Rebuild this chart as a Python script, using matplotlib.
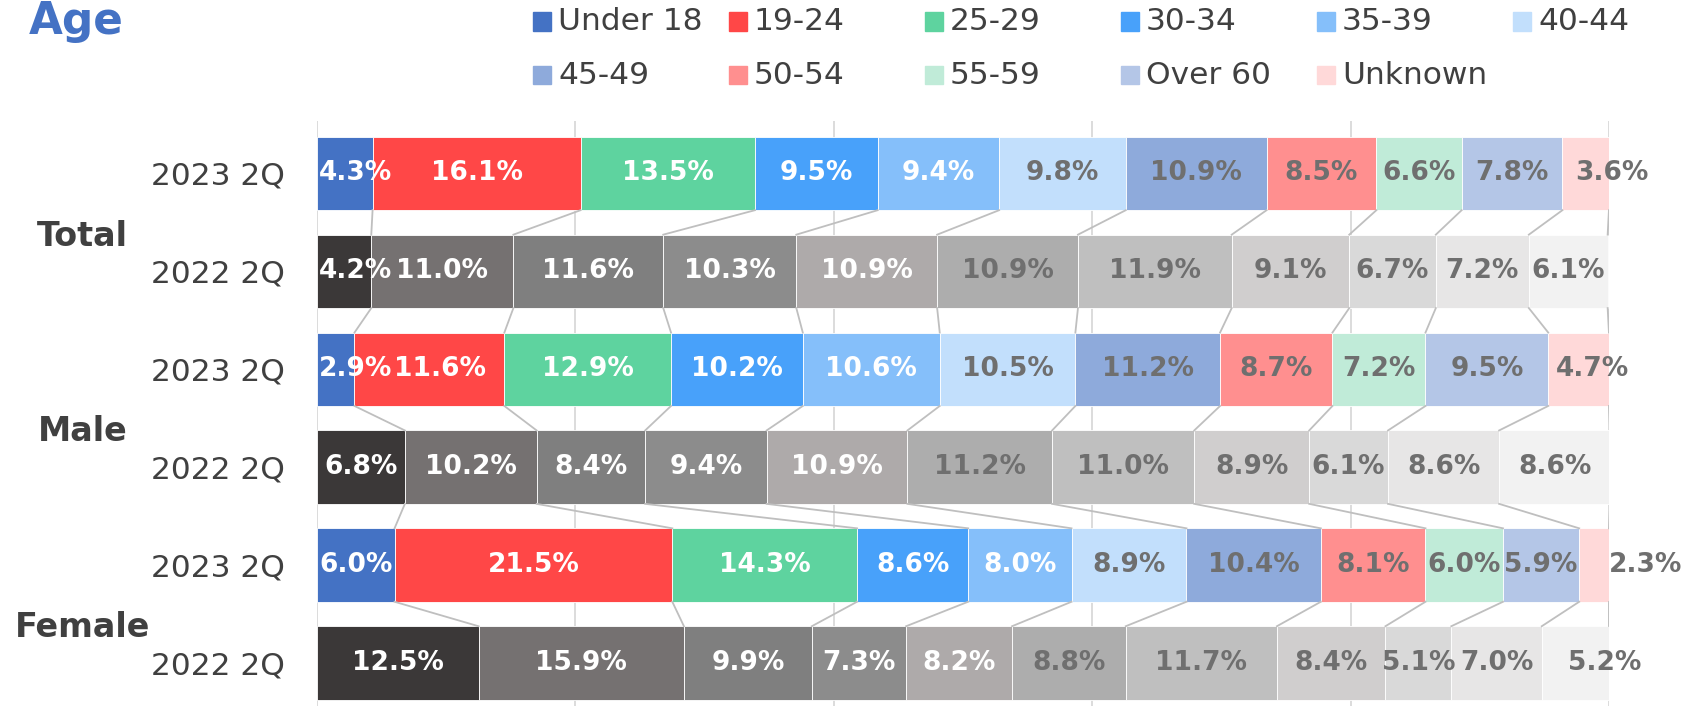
import matplotlib
matplotlib.use("Agg")
from matplotlib import pyplot as plt
from matplotlib.patches import Rectangle
from matplotlib.transforms import blended_transform_factory
import numpy as np

age_groups = ['Under 18', '19-24', '25-29', '30-34', '35-39', '40-44',
              '45-49', '50-54', '55-59', 'Over 60', 'Unknown']
row_labels = ['2023 2Q', '2022 2Q', '2023 2Q', '2022 2Q', '2023 2Q', '2022 2Q']
group_labels = ['Total', 'Male', 'Female']

total_2023 = [4.3, 16.1, 13.5, 9.5, 9.4, 9.8, 10.9, 8.5, 6.6, 7.8, 3.6]
total_2022 = [4.2, 11.0, 11.6, 10.3, 10.9, 10.9, 11.9, 9.1, 6.7, 7.2, 6.1]
male_2023 = [2.9, 11.6, 12.9, 10.2, 10.6, 10.5, 11.2, 8.7, 7.2, 9.5, 4.7]
male_2022 = [6.8, 10.2, 8.4, 9.4, 10.9, 11.2, 11.0, 8.9, 6.1, 8.6, 8.6]
female_2023 = [6.0, 21.5, 14.3, 8.6, 8.0, 8.9, 10.4, 8.1, 6.0, 5.9, 2.3]
female_2022 = [12.5, 15.9, 9.9, 7.3, 8.2, 8.8, 11.7, 8.4, 5.1, 7.0, 5.2]

rows = [total_2023, total_2022, male_2023, male_2022, female_2023, female_2022]

# colours: current year in colour, previous year in greys
colors_now = ['#4472C4', '#FF4747', '#5ED39F', '#48A1FA', '#85BFFA', '#C2DFFC',
              '#8EAADB', '#FF8F8F', '#C0EBD8', '#B4C6E7', '#FFD9D9']
colors_prev = ['#3B3838', '#757171', '#7F7F7F', '#8C8C8C', '#AEAAAA', '#ADADAD',
               '#BFBFBF', '#D0CECE', '#D9D9D9', '#E7E6E6', '#F2F2F2']
text_dark = '#404040'
label_gray = '#6F6F6F'

# label nudge for the last (narrow) segment of each row, in axis units
last_nudge = [2.0, 0, 1.1, 0, 4.0, 2.3]

fig = plt.figure(figsize=(16.89, 7.06), dpi=100)
ax = fig.add_axes([0.1877, 0.0, 0.7649, 0.8286])

bar_h = 0.75
y = np.arange(len(rows))
row_texts = []
for r, vals in enumerate(rows):
    cols = colors_now if r % 2 == 0 else colors_prev
    left = 0
    texts = []
    for i, v in enumerate(vals):
        ax.barh(y[r], v, left=left, height=bar_h, color=cols[i],
                edgecolor='white', linewidth=0.6, zorder=2)
        xc = left + v / 2
        if i == len(vals) - 1:
            xc += last_nudge[r]
        tc = 'white' if i < 5 else label_gray
        t = ax.text(xc, y[r], f'{v:.1f}%', ha='center', va='center',
                    fontsize=19, fontweight='bold', color=tc, zorder=4)
        texts.append(t)
        left += v
    row_texts.append(texts)

# series lines between consecutive bars
for r in range(len(rows) - 1):
    c1 = np.cumsum(rows[r])
    c2 = np.cumsum(rows[r + 1])
    for a, b in zip(c1, c2):
        ax.plot([a, b], [y[r] + bar_h / 2, y[r + 1] - bar_h / 2],
                color='#BFBFBF', lw=1.3, zorder=3)

ax.set_xlim(0, 100)
ax.set_ylim(5.44, -0.536)
ax.set_xticks([0, 20, 40, 60, 80, 100])
ax.set_xticklabels([])
ax.grid(axis='x', color='#D9D9D9', lw=1.3, zorder=0)
ax.set_axisbelow(True)
ax.set_yticks(y)
ax.set_yticklabels(row_labels, fontsize=22.5, color=text_dark)
ax.tick_params(length=0, axis='y', pad=23)
ax.tick_params(length=0, axis='x')
for s in ax.spines.values():
    s.set_visible(False)

# keep labels inside the plot on the left and stop them overlapping
fig.canvas.draw()
rend = fig.canvas.get_renderer()
x_left = ax.transData.transform((0, 0))[0]
px_per_unit = ax.transData.transform((1, 0))[0] - x_left
for texts in row_texts:
    t0 = texts[0]
    if t0.get_window_extent(rend).x0 < x_left + 2:
        t0.set_ha('left')
        t0.set_x(0.15)
    prev_right = t0.get_window_extent(rend).x1
    for t in texts[1:]:
        bb = t.get_window_extent(rend)
        if bb.x0 < prev_right + 2:
            t.set_x(t.get_position()[0] + (prev_right + 2 - bb.x0) / px_per_unit)
        prev_right = t.get_window_extent(rend).x1

trans = blended_transform_factory(fig.transFigure, ax.transData)
for g, name in enumerate(group_labels):
    fig.text(0.049, 2 * g + 0.64, name, transform=trans, ha='center',
             va='center', fontsize=24, fontweight='bold', color=text_dark)

# title
fig.text(0.017, 0.952, 'Age', fontsize=31.5, fontweight='bold',
         color='#4472C4', ha='left', va='baseline')

# legend laid out in a fixed grid like the original
W, H = 1689, 706
for i, name in enumerate(age_groups):
    row, col = divmod(i, 6)
    x0 = 533 + 196 * col
    yc = 21.5 + 53.5 * row
    sq = 18
    fig.add_artist(Rectangle((x0 / W, 1 - (yc + sq / 2) / H), sq / W, sq / H,
                             transform=fig.transFigure, color=colors_now[i]))
    fig.text((x0 + 25) / W, 1 - yc / H, name, fontsize=22.5, color=text_dark,
             ha='left', va='center')

plt.savefig('out.png', dpi=100)
